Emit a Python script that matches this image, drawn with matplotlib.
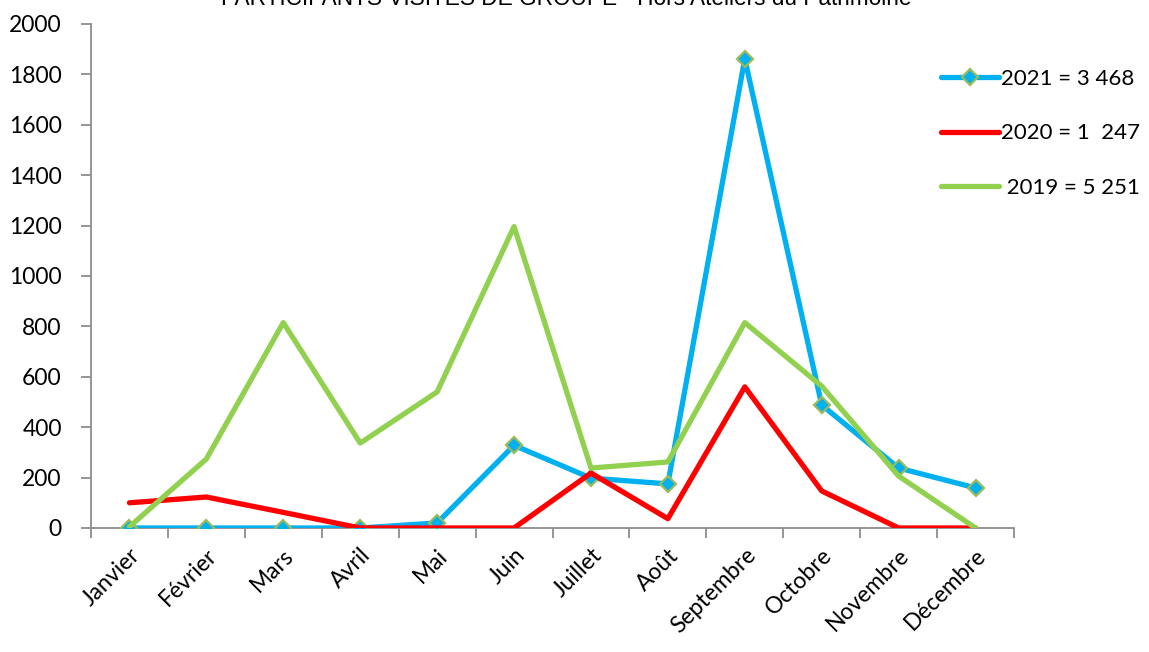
import matplotlib
matplotlib.use("Agg")
import matplotlib.pyplot as plt

months = ["Janvier", "Février", "Mars", "Avril", "Mai", "Juin", "Juillet",
          "Août", "Septembre", "Octobre", "Novembre", "Décembre"]
v2021 = [0, 0, 0, 0, 20, 328, 198, 175, 1862, 488, 238, 159]
v2020 = [100, 123, 62, 0, 0, 0, 218, 37, 560, 147, 0, 0]
v2019 = [5, 274, 815, 337, 540, 1196, 238, 262, 815, 563, 206, 0]
labels = ["2021 = 3 468", "2020 = 1  247", " 2019 = 5 251"]
title = "PARTICIPANTS VISITES DE GROUPE - Hors Ateliers du Patrimoine"

plt.rcParams['font.family'] = ['Lato', 'DejaVu Sans']
FS = 16.5

fig = plt.figure(figsize=(11.49, 6.52), dpi=100)
ax = fig.add_axes([91/1149, 1-528/652, (1014-91)/1149, (528-24)/652])

x = list(range(len(months)))
LW = 3.8
ax.plot(x, v2021, color='#00B0F0', lw=LW, marker='D', markersize=8.5,
        markerfacecolor='#00B0F0', markeredgecolor='#9BBB59', markeredgewidth=1.6,
        label=labels[0], zorder=3, solid_capstyle='round')
ax.plot(x, v2020, color='#FF0000', lw=LW, label=labels[1], zorder=4, solid_capstyle='round')
ax.plot(x, v2019, color='#92D050', lw=LW, label=labels[2], zorder=5, solid_capstyle='round')

ax.set_xlim(-0.5, 11.5)
ax.set_ylim(0, 2000)
ax.set_yticks(range(0, 2001, 200))
ax.set_xticks([i - 0.5 for i in range(13)], minor=False)
ax.set_xticklabels([])
ax.set_xticks(x, minor=True)
ax.set_xticklabels(months, minor=True, rotation=45, ha='right', va='top',
                   rotation_mode='anchor', fontsize=FS)
ax.tick_params(axis='x', which='minor', length=0, pad=12)
ax.tick_params(axis='x', which='major', length=7, width=1.3, color='#8C8C8C', direction='out')
ax.tick_params(axis='y', length=7, width=1.3, color='#8C8C8C', direction='out', labelsize=FS, pad=14)

for s in ['top', 'right']:
    ax.spines[s].set_visible(False)
for s in ['left', 'bottom']:
    ax.spines[s].set_color('#8C8C8C')
    ax.spines[s].set_linewidth(1.3)

leg = ax.legend(loc='upper left', bbox_to_anchor=(921/1149, 1-49/652),
                bbox_transform=fig.transFigure, frameon=False, fontsize=16,
                handlelength=2.6, handletextpad=0.1, labelspacing=1.55)

fig.text(566/1149, 1-5/652, title, ha='center', va='baseline', fontsize=16.3,
         family=['Liberation Sans', 'DejaVu Sans'])

fig.savefig("out.png", dpi=100)
